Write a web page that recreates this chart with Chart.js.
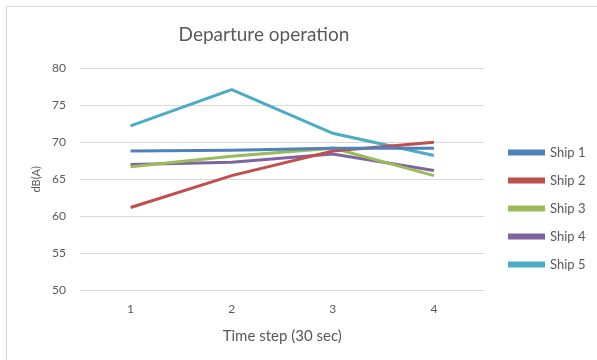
<!DOCTYPE html>
<html>
<head>
<meta charset="utf-8">
<script src="https://cdn.jsdelivr.net/npm/chart.js@4"></script>
<style>
  body { margin: 0; background: #fff; }
  #wrap { position: relative; width: 597px; height: 360px; overflow: hidden; }
  #frame { position: absolute; left: 6px; top: 6px; width: 620px; height: 400px; border: 1px solid #d9d9d9; box-sizing: border-box; }
  canvas { position: absolute; left: 0; top: 0; }
</style>
</head>
<body>
<div id="wrap">
  <div id="frame"></div>
  <canvas id="chart" width="597" height="360"></canvas>
</div>
<script>
// chart data
const chartTitle = 'Departure operation';
const timeSteps = ['1', '2', '3', '4'];
const seriesNames = ['Ship 1', 'Ship 2', 'Ship 3', 'Ship 4', 'Ship 5'];
const ship1 = [68.8, 68.9, 69.2, 69.2];
const ship2 = [61.2, 65.5, 68.8, 70.0];
const ship3 = [66.7, 68.1, 69.2, 65.5];
const ship4 = [67.0, 67.3, 68.4, 66.2];
const ship5 = [72.2, 77.1, 71.2, 68.2];
const yMin = 50, yMax = 80, yStep = 5;

const seriesColors = ['#4f81bd', '#c0504d', '#9bbb59', '#8064a2', '#4bacc6'];
const textColor = '#595959';
const fontFamily = 'Lato, "Open Sans", sans-serif';

// title drawn by hand so it can sit centred over chart + legend like Excel does
const titlePlugin = {
    id: 'excelTitle',
    afterDraw(chart) {
        const ctx = chart.ctx;
        ctx.save();
        ctx.font = '19px ' + fontFamily;
        ctx.fillStyle = textColor;
        ctx.textAlign = 'center';
        ctx.textBaseline = 'middle';
        ctx.fillText(chartTitle, 264, 35);
        ctx.restore();
    }
};

const allSeries = [ship1, ship2, ship3, ship4, ship5];

new Chart(document.getElementById('chart'), {
    type: 'line',
    data: {
        labels: timeSteps,
        datasets: allSeries.map((vals, i) => ({
            label: seriesNames[i],
            data: vals,
            borderColor: seriesColors[i],
            backgroundColor: seriesColors[i],
            borderWidth: 3,
            pointRadius: 0,
            tension: 0,
            fill: false
        }))
    },
    options: {
        responsive: false,
        animation: false,
        layout: { padding: { top: 68, left: 22, right: 8, bottom: 15 } },
        scales: {
            x: {
                offset: true,
                grid: { display: false, drawTicks: false },
                border: { display: false },
                ticks: { color: textColor, padding: 11, font: { family: fontFamily, size: 12 } },
                title: {
                    display: true, text: 'Time step (30 sec)', color: textColor,
                    padding: 0,
                    font: { family: fontFamily, size: 15 }
                }
            },
            y: {
                min: yMin, max: yMax,
                grid: { color: '#d9d9d9', drawTicks: false },
                border: { display: false },
                ticks: { stepSize: yStep, color: textColor, padding: 14, font: { family: fontFamily, size: 12 } },
                title: {
                    display: true, text: 'dB(A)', color: textColor,
                    padding: { top: 8, bottom: 0 },
                    font: { family: fontFamily, size: 11 }
                },
                afterFit: function(scale) { scale.width = 58; }
            },
            // empty axis on the right, only keeps a gap before the legend
            gap: {
                position: 'right',
                display: true,
                grid: { display: false },
                border: { display: false },
                ticks: { display: false },
                afterFit: function(scale) { scale.width = 10; }
            }
        },
        plugins: {
            title: { display: false },
            tooltip: { enabled: false },
            legend: {
                position: 'right',
                align: 'center',
                title: { display: true, text: '', padding: { top: 3, bottom: 0 }, font: { size: 1 } },
                labels: {
                    boxWidth: 34,
                    boxHeight: 3,
                    padding: 15,
                    color: textColor,
                    font: { family: fontFamily, size: 13 }
                }
            }
        }
    },
    plugins: [titlePlugin]
});
</script>
</body>
</html>
